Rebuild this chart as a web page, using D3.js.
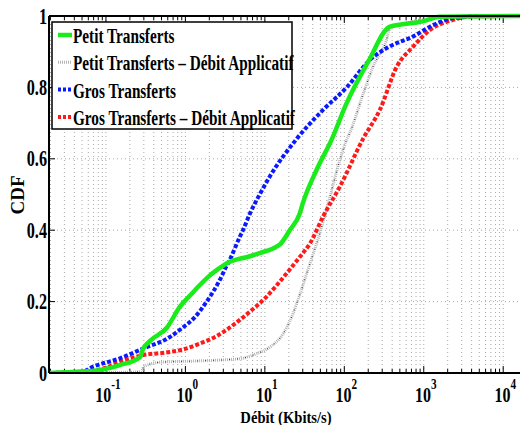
<!DOCTYPE html>
<html>

<head>
  <title>CDF Débit</title>
</head>

<style>
  body,
  html {
    margin: 0;
    padding: 0;
    background: #fff;
  }

  text {
    font-family: "Liberation Serif", "Times New Roman", serif;
    font-weight: bold;
    fill: #000;
  }
</style>

<body>

  <svg id="svg" width="520" height="425"></svg>

  <script src="https://d3js.org/d3.v7.min.js"></script>
  <script>

    // data (rate in Kbits/s, cumulative share)
    const petitRate = [0.0192, 0.05, 0.083, 0.15, 0.27, 0.29, 0.36, 0.58, 0.85, 1.2, 1.5, 2.0, 2.7, 3.3, 6.5, 8.6, 12.7, 15.5, 20.6, 27.5, 30, 45, 69, 107, 200, 375, 975, 1580, 16000]
    const petitCdf = [0, 0.004, 0.008, 0.022, 0.045, 0.065, 0.09, 0.126, 0.185, 0.222, 0.245, 0.272, 0.294, 0.307, 0.327, 0.336, 0.349, 0.36, 0.40, 0.447, 0.475, 0.57, 0.653, 0.756, 0.872, 0.97, 0.985, 0.998, 1]

    const petitAppRate = [0.0192, 0.2, 0.28, 0.3, 0.48, 1.5, 4.8, 7.8, 12, 17, 22.7, 27.5, 37, 49, 66, 88, 107, 117, 174, 230, 340, 375, 600, 1500, 16000]
    const petitAppCdf = [0, 0.002, 0.004, 0.018, 0.03, 0.034, 0.04, 0.054, 0.075, 0.11, 0.167, 0.22, 0.307, 0.39, 0.494, 0.597, 0.653, 0.672, 0.784, 0.858, 0.933, 0.966, 0.98, 0.995, 1]

    const grosRate = [0.0192, 0.05, 0.068, 0.15, 0.29, 0.63, 0.935, 1.3, 1.85, 2.7, 3.3, 3.6, 4.8, 5.3, 6.5, 8.6, 11.5, 25, 54, 107, 210, 375, 740, 1320, 2350, 5000, 16000]
    const grosCdf = [0, 0.003, 0.017, 0.041, 0.068, 0.10, 0.128, 0.155, 0.20, 0.26, 0.30, 0.316, 0.38, 0.40, 0.447, 0.50, 0.55, 0.655, 0.737, 0.80, 0.877, 0.915, 0.943, 0.975, 0.994, 1, 1]

    const grosAppRate = [0.0192, 0.06, 0.1, 0.15, 0.29, 0.6, 0.935, 1.5, 2.45, 4.8, 6.5, 10, 14, 20.6, 27.5, 37, 54, 88, 174, 280, 457, 740, 1200, 2350, 4000, 16000]
    const grosAppCdf = [0, 0.004, 0.015, 0.031, 0.05, 0.058, 0.066, 0.082, 0.103, 0.148, 0.172, 0.209, 0.245, 0.29, 0.325, 0.363, 0.438, 0.522, 0.658, 0.737, 0.858, 0.915, 0.961, 0.989, 0.999, 1]

    const seriesNames = ['Petit Transferts', 'Petit Transferts \u2013 Débit Applicatif', 'Gros Transferts', 'Gros Transferts \u2013 Débit Applicatif']
    const yTicks = [0, 0.2, 0.4, 0.6, 0.8, 1]
    const yTickLabels = ['0', '0.2', '0.4', '0.6', '0.8', '1']
    const xTicks = [0.1, 1, 10, 100, 1000, 10000]
    const xTickExps = ['-1', '0', '1', '2', '3', '4']

    const svg = d3.select('#svg')

    const pLeft = 49, pRight = 519, pTop = 16, pBottom = 373

    const xscale = d3.scaleLog()
      .domain([0.0192, 15800])
      .range([pLeft, pRight])

    const yscale = d3.scaleLinear()
      .domain([0, 1])
      .range([pBottom, pTop])

    // minor tick values 1..9 per decade
    const minor = []
    for (let e = -2; e <= 4; e++) {
      for (let m = 1; m <= 9; m++) {
        const v = +(m * Math.pow(10, e)).toPrecision(6)
        if (v >= 0.0192 && v <= 15800) minor.push(v)
      }
    }

    // grid
    svg.append('g')
      .selectAll('line')
      .data(minor)
      .join('line')
      .attr('x1', d => xscale(d)).attr('x2', d => xscale(d))
      .attr('y1', pTop).attr('y2', pBottom)
      .attr('stroke', '#a8a8a8')
      .attr('stroke-width', 1)
      .attr('stroke-dasharray', '1,3')

    svg.append('g')
      .selectAll('line')
      .data(yTicks.slice(1, -1))
      .join('line')
      .attr('x1', pLeft).attr('x2', 520)
      .attr('y1', d => yscale(d)).attr('y2', d => yscale(d))
      .attr('stroke', '#a8a8a8')
      .attr('stroke-width', 1)
      .attr('stroke-dasharray', '1,3')

    // ticks (inside, on bottom and top)
    const tickG = svg.append('g').attr('stroke', '#000').attr('stroke-width', 1)
    minor.forEach(v => {
      const len = xTicks.includes(v) ? 7 : 4
      tickG.append('line')
        .attr('x1', xscale(v)).attr('x2', xscale(v))
        .attr('y1', pBottom).attr('y2', pBottom - len)
      tickG.append('line')
        .attr('x1', xscale(v)).attr('x2', xscale(v))
        .attr('y1', pTop).attr('y2', pTop + len)
    })
    yTicks.forEach(v => {
      tickG.append('line')
        .attr('x1', pLeft).attr('x2', pLeft + 6)
        .attr('y1', yscale(v)).attr('y2', yscale(v))
    })

    // curves
    svg.append('defs').append('clipPath').attr('id', 'clip')
      .append('rect')
      .attr('x', pLeft).attr('y', pTop - 4)
      .attr('width', pRight - pLeft + 2).attr('height', pBottom - pTop + 4)

    const linegen = d3.line()
      .x(d => xscale(d[0]))
      .y(d => yscale(d[1]))
      .curve(d3.curveMonotoneX)

    const curves = svg.append('g').attr('clip-path', 'url(#clip)')

    function drawCurve(rate, cdf, stroke, width, dash) {
      curves.append('path')
        .attr('d', linegen(d3.zip(rate, cdf)))
        .attr('fill', 'none')
        .attr('stroke', stroke)
        .attr('stroke-width', width)
        .attr('stroke-dasharray', dash)
    }

    drawCurve(petitAppRate, petitAppCdf, '#b4b4b4', 3, '1,1')
    drawCurve(petitAppRate, petitAppCdf, '#333', 1, '1,7')
    drawCurve(grosAppRate, grosAppCdf, '#ff1a1a', 4, '4,2')
    drawCurve(grosRate, grosCdf, '#0a1aff', 4, '4,2')
    drawCurve(petitRate, petitCdf, '#1aeb1a', 4.5, null)

    // axes frame
    const frame = svg.append('g').attr('stroke', '#000').attr('stroke-width', 2)
    frame.append('line').attr('x1', pLeft).attr('x2', 520).attr('y1', pBottom).attr('y2', pBottom)
    frame.append('line').attr('x1', pLeft).attr('x2', 520).attr('y1', pTop).attr('y2', pTop)
    frame.append('line').attr('x1', pLeft).attr('x2', pLeft).attr('y1', pTop).attr('y2', pBottom)

    // y tick labels
    svg.append('g')
      .selectAll('text')
      .data(yTicks)
      .join('text')
      .attr('transform', d => `translate(${pLeft - 2},${yscale(d) + 7.5}) scale(0.72,1)`)
      .attr('text-anchor', 'end')
      .attr('font-size', 22.5)
      .text((d, i) => yTickLabels[i])

    // x tick labels 10^n
    const xl = svg.append('g')
      .selectAll('text')
      .data(xTicks)
      .join('text')
      .attr('transform', d => `translate(${xscale(d) + 2},402) scale(0.8,1)`)
      .attr('text-anchor', 'middle')
      .attr('font-size', 20)
    xl.append('tspan').text('10')
    xl.append('tspan')
      .attr('dy', -13)
      .attr('font-size', 14)
      .text((d, i) => xTickExps[i])

    // axis titles
    svg.append('text')
      .attr('transform', 'translate(286,423) scale(0.86,1)')
      .attr('text-anchor', 'middle')
      .attr('font-size', 17)
      .text('Débit (Kbits/s)')

    svg.append('text')
      .attr('transform', 'translate(24,195) rotate(-90)')
      .attr('text-anchor', 'middle')
      .attr('font-size', 19)
      .text('CDF')

    // legend
    const legend = svg.append('g')
    legend.append('rect')
      .attr('x', 52).attr('y', 22)
      .attr('width', 240).attr('height', 107)
      .attr('fill', '#fff')
      .attr('stroke', '#000')
      .attr('stroke-width', 1.5)

    const legStyles = [
      { stroke: '#1aeb1a', w: 4.5, dash: null },
      { stroke: '#b4b4b4', w: 3, dash: '1,1' },
      { stroke: '#0a1aff', w: 4, dash: '3,2' },
      { stroke: '#ff1a1a', w: 4, dash: '3,2' }
    ]

    seriesNames.forEach((name, i) => {
      const cy = 35 + i * 27.3
      legend.append('line')
        .attr('x1', 58).attr('x2', 72)
        .attr('y1', cy).attr('y2', cy)
        .attr('stroke', legStyles[i].stroke)
        .attr('stroke-width', legStyles[i].w)
        .attr('stroke-dasharray', legStyles[i].dash)
      legend.append('text')
        .attr('transform', `translate(73,${cy + 8}) scale(0.71,1)`)
        .attr('font-size', 21.5)
        .text(name)
    })

  </script>

</body>

</html>
